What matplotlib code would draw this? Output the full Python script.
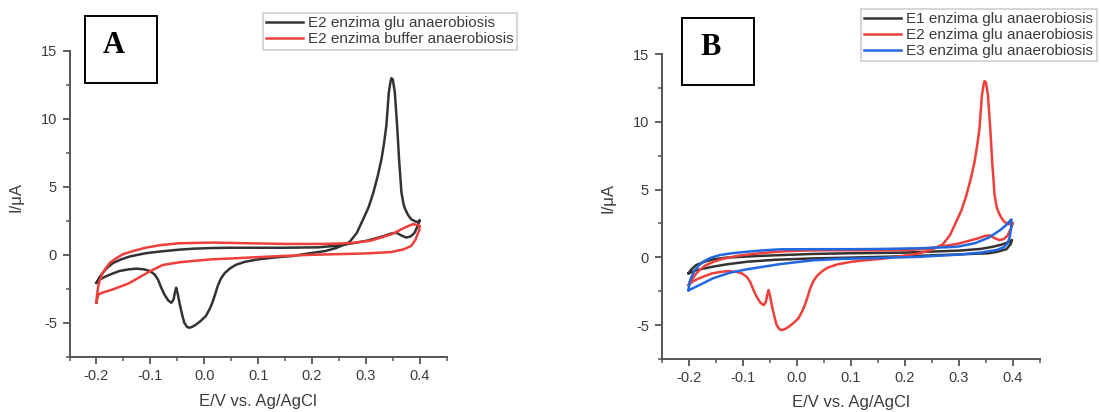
import matplotlib
matplotlib.use("Agg")
import matplotlib.pyplot as plt
from matplotlib.patches import Rectangle
from matplotlib.ticker import MultipleLocator

plt.rcParams['font.family'] = ['Liberation Sans', 'DejaVu Sans']
plt.rcParams['axes.unicode_minus'] = False

# ---- data: E2 enzima glu anaerobiosis (closed CV loop) ----
e2glu_E = [-0.200, -0.193, -0.181, -0.168, -0.157, -0.140, -0.126, -0.112, -0.101, -0.092,
           -0.086, -0.080, -0.074, -0.067, -0.061, -0.057, -0.054, -0.052, -0.049, -0.046,
           -0.041, -0.037, -0.032, -0.028, -0.022, -0.015, -0.006, 0.003, 0.010, 0.015,
           0.020, 0.025, 0.031, 0.038, 0.048, 0.058, 0.075, 0.101, 0.130, 0.163,
           0.194, 0.225, 0.245, 0.260, 0.270, 0.283, 0.295, 0.305, 0.314, 0.322,
           0.329, 0.334, 0.338, 0.3426, 0.346, 0.3475, 0.350, 0.3537, 0.358, 0.3616,
           0.366, 0.370, 0.373, 0.378, 0.384, 0.392, 0.397, 0.400,
           0.397, 0.390, 0.383, 0.375, 0.366, 0.357, 0.348, 0.335, 0.317, 0.300,
           0.268, 0.240, 0.212, 0.150, 0.100, 0.050, 0.015, -0.020, -0.046, -0.080,
           -0.108, -0.138, -0.155, -0.169, -0.180, -0.188, -0.195, -0.200]
e2glu_I = [-2.05, -1.80, -1.56, -1.35, -1.19, -1.07, -1.02, -1.07, -1.19, -1.45,
           -1.81, -2.40, -2.91, -3.35, -3.53, -3.30, -2.70, -2.42, -2.90, -3.53,
           -4.40, -5.00, -5.30, -5.37, -5.30, -5.13, -4.85, -4.51, -4.00, -3.53,
           -2.95, -2.30, -1.75, -1.35, -1.00, -0.75, -0.52, -0.33, -0.20, -0.09,
           0.10, 0.28, 0.50, 0.75, 0.95, 1.60, 2.62, 3.50, 4.59, 5.80,
           7.04, 8.30, 9.50, 11.96, 12.80, 13.00, 12.90, 11.96, 9.50, 7.04,
           4.59, 3.70, 3.36, 2.95, 2.62, 2.45, 2.42, 2.55,
           2.20, 1.60, 1.35, 1.27, 1.42, 1.62, 1.58, 1.40, 1.20, 1.02,
           0.80, 0.65, 0.55, 0.52, 0.52, 0.52, 0.50, 0.45, 0.38, 0.25,
           0.12, -0.12, -0.35, -0.60, -0.95, -1.31, -1.70, -2.05]

# ---- data: E2 enzima buffer anaerobiosis ----
e2buf_E = [-0.200, -0.199, -0.197, -0.194, -0.188, -0.182, -0.175, -0.163, -0.151, -0.130,
           -0.108, -0.080, -0.046, 0.015, 0.080, 0.150, 0.220, 0.270, 0.310, 0.347,
           0.372, 0.387, 0.397, 0.400,
           0.399, 0.397, 0.392, 0.384, 0.370, 0.347, 0.300, 0.250, 0.200, 0.150,
           0.100, 0.050, 0.015, -0.020, -0.046, -0.077, -0.100, -0.120, -0.140, -0.169,
           -0.190, -0.197, -0.200]
e2buf_I = [-3.53, -3.00, -2.40, -1.90, -1.31, -0.95, -0.58, -0.25, 0.04, 0.30,
           0.53, 0.72, 0.85, 0.90, 0.85, 0.80, 0.80, 0.85, 1.05, 1.50,
           2.00, 2.25, 2.20, 2.10,
           1.80, 1.64, 1.10, 0.65, 0.40, 0.20, 0.10, 0.05, 0.00, -0.08,
           -0.17, -0.27, -0.33, -0.45, -0.55, -0.75, -1.20, -1.65, -2.10, -2.54,
           -2.80, -2.95, -3.53]

# ---- data: E1 enzima glu anaerobiosis ----
e1glu_E = [-0.200, -0.195, -0.186, -0.170, -0.155, -0.130, -0.093, -0.040, 0.030, 0.100,
           0.200, 0.302, 0.340, 0.363, 0.380, 0.393, 0.398,
           0.396, 0.388, 0.370, 0.355, 0.302, 0.200, 0.100, 0.030, -0.040,
           -0.093, -0.130, -0.155, -0.175, -0.186, -0.200]
e1glu_I = [-1.18, -0.90, -0.57, -0.32, -0.15, -0.02, 0.06, 0.15, 0.25, 0.30,
           0.35, 0.50, 0.62, 0.78, 0.95, 1.15, 1.28,
           1.00, 0.60, 0.40, 0.30, 0.22, 0.08, -0.02, -0.08, -0.18,
           -0.33, -0.52, -0.69, -0.85, -0.96, -1.18]

# ---- data: E3 enzima glu anaerobiosis ----
e3glu_E = [-0.200, -0.198, -0.193, -0.188, -0.181, -0.173, -0.160, -0.142, -0.120, -0.093,
           -0.060, -0.031, 0.030, 0.100, 0.160, 0.228, 0.280, 0.300, 0.330, 0.355,
           0.376, 0.388, 0.397,
           0.397, 0.394, 0.390, 0.383, 0.370, 0.340, 0.300, 0.228, 0.150, 0.080,
           0.030, -0.031, -0.093, -0.124, -0.155, -0.180, -0.193, -0.200]
e3glu_I = [-2.42, -1.80, -1.30, -0.94, -0.60, -0.32, -0.05, 0.17, 0.30, 0.41,
           0.52, 0.59, 0.60, 0.60, 0.62, 0.67, 0.75, 0.80, 1.05, 1.45,
           2.00, 2.40, 2.80,
           2.26, 1.50, 1.03, 0.75, 0.54, 0.35, 0.20, 0.04, -0.05, -0.12,
           -0.22, -0.50, -0.89, -1.14, -1.55, -2.05, -2.30, -2.42]

xticks = [-0.2, -0.1, 0.0, 0.1, 0.2, 0.3, 0.4]
yticks = [-5, 0, 5, 10, 15]

BLACK = '#333333'
RED = '#ee3f3a'
BLUE = '#2167de'
TXT = '#3c3c3c'

W, H = 1101, 412
fig = plt.figure(figsize=(W / 100, H / 100), dpi=100)


def px_axes(l, t, r, b):
    return fig.add_axes([l / W, 1 - b / H, (r - l) / W, (b - t) / H])


def style(ax, l, t, r, b, ylab_x, ylab_y, xlab_y):
    ax.set_xlim(-0.25, 0.45)
    ax.set_ylim(-7.5, 15)
    for s in ('top', 'right'):
        ax.spines[s].set_visible(False)
    for s in ('left', 'bottom'):
        ax.spines[s].set_color('#555555')
        ax.spines[s].set_linewidth(1.4)
    ax.set_xticks(xticks)
    ax.set_xticklabels(['%.1f' % v for v in xticks])
    ax.set_yticks(yticks)
    ax.set_yticklabels([str(v) for v in yticks])
    ax.xaxis.set_minor_locator(MultipleLocator(0.05))
    ax.yaxis.set_minor_locator(MultipleLocator(2.5))
    ax.tick_params(which='major', direction='out', length=5, width=1.3, color='#555555',
                   labelsize=10.5, labelcolor=TXT, pad=4)
    ax.tick_params(which='minor', direction='out', length=3, width=1.1, color='#555555')
    ax.set_xlabel('E/V vs. Ag/AgCl', fontsize=12, color=TXT)
    ax.set_ylabel('I/\u03bcA', fontsize=12, color=TXT)
    ax.xaxis.label.set_va('center')
    ax.yaxis.label.set_va('center')
    ax.yaxis.label.set_ha('center')
    ax.xaxis.set_label_coords(0.5, (b - xlab_y) / (b - t))
    ax.yaxis.set_label_coords((ylab_x - l) / (r - l), (b - ylab_y) / (b - t))


def letter_box(l, t, r, b, letter):
    fig.patches.append(Rectangle((l / W, 1 - b / H), (r - l) / W, (b - t) / H,
                                 transform=fig.transFigure, fill=False,
                                 edgecolor='black', linewidth=1.4))
    fig.text((l + 29) / W, 1 - (t + 30) / H, letter, family='Liberation Serif',
             fontweight='bold', fontsize=22, ha='center', va='center', color='black')


def legend(ax, x, y):
    leg = ax.legend(loc='upper left', bbox_to_anchor=(x / W, 1 - y / H),
                    bbox_transform=fig.transFigure, fontsize=11, frameon=True,
                    fancybox=False, edgecolor='#c8c8c8', handlelength=2.4,
                    handletextpad=0.35, borderpad=0.22, labelspacing=0.12,
                    borderaxespad=0)
    leg.get_frame().set_linewidth(1.3)
    for t in leg.get_texts():
        t.set_color(TXT)
    return leg


lw = 1.8

# Panel A
A = (69.5, 51, 446.7, 356.7)
axA = px_axes(*A)
axA.plot(e2glu_E, e2glu_I, color=BLACK, lw=lw, label='E2 enzima glu anaerobiosis')
axA.plot(e2buf_E, e2buf_I, color=RED, lw=lw, label='E2 enzima buffer anaerobiosis')
style(axA, *A, ylab_x=16, ylab_y=197, xlab_y=401.7)
legend(axA, 263, 13)
letter_box(84.5, 15.7, 156.7, 82.7, 'A')

# Panel B
B = (661.5, 54, 1040, 359)
axB = px_axes(*B)
axB.plot(e1glu_E, e1glu_I, color=BLACK, lw=lw, label='E1 enzima glu anaerobiosis')
axB.plot(e2glu_E, e2glu_I, color=RED, lw=lw, label='E2 enzima glu anaerobiosis')
axB.plot(e3glu_E, e3glu_I, color=BLUE, lw=lw, label='E3 enzima glu anaerobiosis')
style(axB, *B, ylab_x=608, ylab_y=198, xlab_y=403)
legend(axB, 861, 9)
letter_box(682, 17.7, 754, 85, 'B')

fig.savefig('out.png', dpi=100)
